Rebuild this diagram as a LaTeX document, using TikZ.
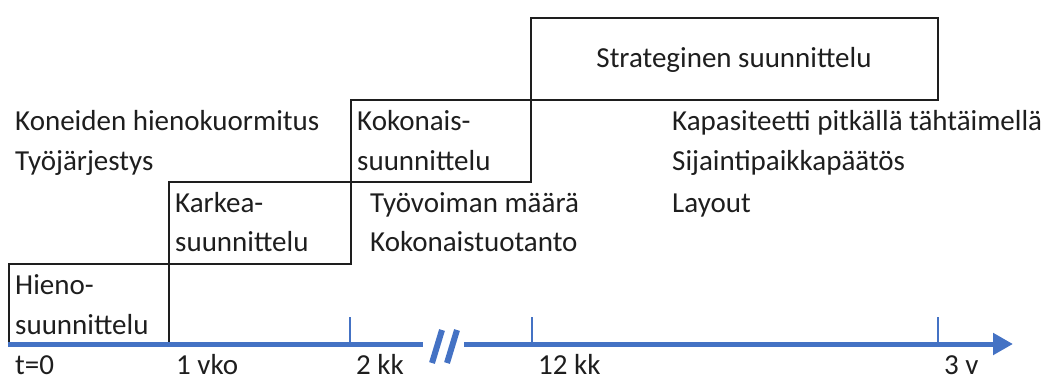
\documentclass[tikz,border=0pt]{standalone}
\usepackage{fontspec}
\setmainfont{Carlito}
\usetikzlibrary{arrows.meta}
\definecolor{axisblue}{RGB}{68,114,196}
\definecolor{ink}{RGB}{30,30,30}
\begin{document}
\begin{tikzpicture}[x=1pt,y=-1pt,
  stage/.style={draw=ink, line width=1.6pt, rectangle, inner sep=0pt, anchor=north west},
  txt/.style={anchor=base west, inner sep=0pt, text=ink, font=\fontsize{29}{41}\selectfont},
  axisline/.style={draw=axisblue, line width=5pt},
  tickline/.style={draw=axisblue, line width=2pt},
  breakmark/.style={draw=axisblue, line width=6pt},
]
\useasboundingbox (0,0) rectangle (1050,376);

% planning horizons as a staircase of boxes
\node[stage, minimum width=160pt, minimum height=81pt] (hieno) at (8,263) {};
\node[stage, minimum width=182pt, minimum height=82pt] (karkea) at (168,181) {};
\node[stage, minimum width=180pt, minimum height=82pt] (kokonais) at (350,99) {};
\node[stage, minimum width=407pt, minimum height=82pt] (strateg) at (530,17) {};

% box titles
\node[txt] (hienoA) at (15,294) {Hieno-};
\node[txt] (hienoB) at (15,334) {suunnittelu};
\node[txt] (karkeaA) at (175,212) {Karkea-};
\node[txt] (karkeaB) at (175,251) {suunnittelu};
\node[txt] (kokA) at (357,130) {Kokonais-};
\node[txt] (kokB) at (357,170) {suunnittelu};
\node[txt, anchor=base] (stratT) at (734,67) {Strateginen suunnittelu};

% decisions at each level
\node[txt] (kone) at (15,130) {Koneiden hienokuormitus};
\node[txt] (tyoj) at (15,170) {Työjärjestys};
\node[txt] (tyov) at (370,212) {Työvoiman määrä};
\node[txt] (kokt) at (370,251) {Kokonaistuotanto};
\node[txt] (kapa) at (672,130) {Kapasiteetti pitkällä tähtäimellä};
\node[txt] (sija) at (672,170) {Sijaintipaikkapäätös};
\node[txt] (layo) at (672,212) {Layout};

% time axis with a break
\coordinate (ax0) at (8,344);
\coordinate (brkL) at (423,344);
\coordinate (brkR) at (464,344);
\coordinate (axEnd) at (1013,344);
\draw[axisline] (ax0) -- (brkL);
\draw[axisline, -{Triangle[length=20pt,width=21pt]}] (brkR) -- (axEnd);
\coordinate (s1a) at (442,330); \coordinate (s1b) at (432,363);
\coordinate (s2a) at (457,330); \coordinate (s2b) at (447,363);
\draw[breakmark] (s1a) -- (s1b);
\draw[breakmark] (s2a) -- (s2b);

% ticks
\coordinate (t2top) at (350,317); \coordinate (t2) at (350,344);
\coordinate (t12top) at (532,317); \coordinate (t12) at (532,344);
\coordinate (t3top) at (938,317); \coordinate (t3) at (938,344);
\draw[tickline] (t2top) -- (t2);
\draw[tickline] (t12top) -- (t12);
\draw[tickline] (t3top) -- (t3);

% axis labels
\node[txt] (l0) at (15,374.5) {t=0};
\node[txt] (l1) at (176,374.5) {1 vko};
\node[txt] (l2) at (356,374.5) {2 kk};
\node[txt] (l12) at (538,374.5) {12 kk};
\node[txt] (l3) at (944,374.5) {3 v};
\end{tikzpicture}
\end{document}
